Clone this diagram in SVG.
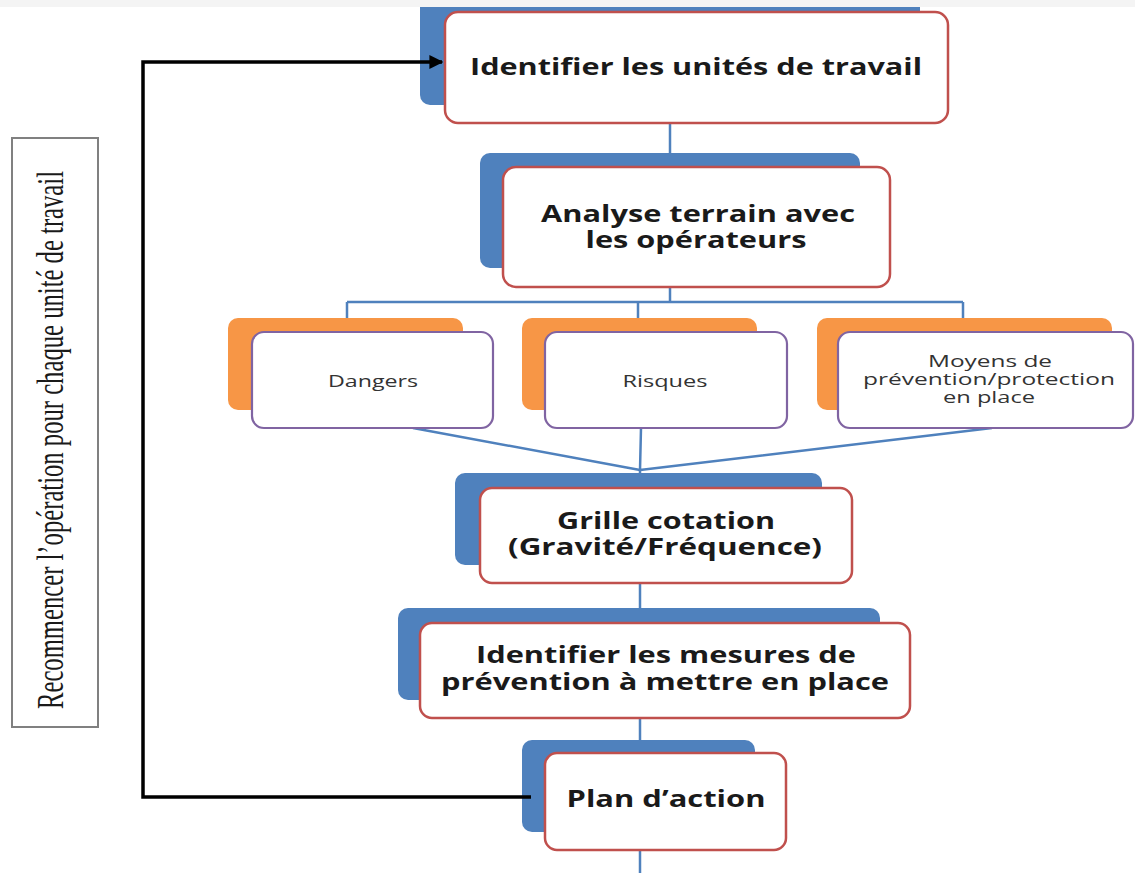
<svg xmlns="http://www.w3.org/2000/svg" width="1135" height="873" viewBox="0 0 1135 873">
  <defs>
    <style>
      .back { fill: #4f81bd; }
      .backo { fill: #f79646; }
      .main { fill: #ffffff; stroke: #c0504d; stroke-width: 2.5; }
      .sub { fill: #ffffff; stroke: #8064a2; stroke-width: 2.2; }
      .big { font-family: "Open Sans", "Liberation Sans", sans-serif; font-weight: bold; font-size: 23px; fill: #1a1a1a; text-anchor: middle; }
      .small { font-family: "Open Sans", "Liberation Sans", sans-serif; font-size: 16px; fill: #333333; text-anchor: middle; }
      .link { stroke: #4f81bd; stroke-width: 2.5; fill: none; }
      .loop { stroke: #000000; stroke-width: 3.5; fill: none; }
      .note { font-family: "Liberation Serif", "Times New Roman", serif; font-size: 38px; fill: #1a1a1a; text-anchor: middle; }
    </style>
    <marker id="arrow" viewBox="0 0 10 10" refX="9" refY="5" markerWidth="4" markerHeight="4" orient="auto" markerUnits="strokeWidth">
      <path d="M0,0 L10,5 L0,10 Z" fill="#000000"/>
    </marker>
  </defs>

  <rect width="1135" height="873" fill="#ffffff"/>

  <!-- tree connectors -->
  <g id="connectors">
    <path class="link" d="M670,123 V153"/>
    <path class="link" d="M670,287 V302"/>
    <path class="link" d="M347,302 H963"/>
    <path class="link" d="M347,302 V318 M638,302 V318 M963,302 V318"/>
    <path class="link" d="M413,428 L640,470 M641,428 L640,470 M992,428 L640,470"/>
    <path class="link" d="M640,470 V474"/>
    <path class="link" d="M640,583 V608"/>
    <path class="link" d="M640,718 V740"/>
    <path class="link" d="M640,850 V873"/>
  </g>

  <!-- step 1 -->
  <g id="n-unites">
    <rect class="back" x="420" y="-8" width="500" height="113" rx="10"/>
    <rect class="main" x="445" y="12" width="503" height="111" rx="13"/>
    <text class="big" x="696" y="75" textLength="452" lengthAdjust="spacingAndGlyphs">Identifier les unités de travail</text>
  </g>

  <!-- top strip of the page -->
  <rect x="0" y="0" width="1135" height="7" fill="#f4f4f4"/>

  <!-- step 2 -->
  <g id="n-analyse">
    <rect class="back" x="480" y="153" width="380" height="115" rx="10"/>
    <rect class="main" x="503" y="167" width="387" height="120" rx="13"/>
    <text class="big" x="698" y="222" textLength="314" lengthAdjust="spacingAndGlyphs">Analyse terrain avec</text>
    <text class="big" x="696" y="248" textLength="221" lengthAdjust="spacingAndGlyphs">les opérateurs</text>
  </g>

  <!-- inputs -->
  <g id="n-dangers">
    <rect class="backo" x="228" y="318" width="235" height="92" rx="10"/>
    <rect class="sub" x="252" y="332" width="241" height="96" rx="12"/>
    <text class="small" x="373" y="387" textLength="90" lengthAdjust="spacingAndGlyphs">Dangers</text>
  </g>
  <g id="n-risques">
    <rect class="backo" x="522" y="318" width="235" height="92" rx="10"/>
    <rect class="sub" x="545" y="332" width="242" height="96" rx="12"/>
    <text class="small" x="665" y="387" textLength="85" lengthAdjust="spacingAndGlyphs">Risques</text>
  </g>
  <g id="n-moyens">
    <rect class="backo" x="817" y="318" width="295" height="92" rx="10"/>
    <rect class="sub" x="838" y="332" width="295" height="96" rx="12"/>
    <text class="small" x="990" y="367" textLength="124" lengthAdjust="spacingAndGlyphs">Moyens de</text>
    <text class="small" x="989" y="385" textLength="252" lengthAdjust="spacingAndGlyphs">prévention/protection</text>
    <text class="small" x="989" y="403" textLength="92" lengthAdjust="spacingAndGlyphs">en place</text>
  </g>

  <!-- step 3 -->
  <g id="n-grille">
    <rect class="back" x="455" y="473" width="367" height="92" rx="10"/>
    <rect class="main" x="480" y="488" width="372" height="95" rx="12"/>
    <text class="big" x="666" y="529" textLength="218" lengthAdjust="spacingAndGlyphs">Grille cotation</text>
    <text class="big" x="665" y="555" textLength="314" lengthAdjust="spacingAndGlyphs">(Gravité/Fréquence)</text>
  </g>

  <!-- step 4 -->
  <g id="n-mesures">
    <rect class="back" x="398" y="608" width="482" height="92" rx="10"/>
    <rect class="main" x="420" y="623" width="490" height="95" rx="12"/>
    <text class="big" x="666" y="663" textLength="380" lengthAdjust="spacingAndGlyphs">Identifier les mesures de</text>
    <text class="big" x="665" y="690" textLength="448" lengthAdjust="spacingAndGlyphs">prévention à mettre en place</text>
  </g>

  <!-- step 5 -->
  <g id="n-plan">
    <rect class="back" x="522" y="740" width="233" height="92" rx="10"/>
    <rect class="main" x="545" y="753" width="241" height="97" rx="12"/>
    <text class="big" x="666" y="807" textLength="199" lengthAdjust="spacingAndGlyphs">Plan d’action</text>
  </g>

  <!-- loop note -->
  <g id="n-note">
    <rect x="12" y="138" width="86" height="589" fill="#ffffff" stroke="#808080" stroke-width="2"/>
    <text class="note" transform="translate(63,440) rotate(-90)" textLength="538" lengthAdjust="spacingAndGlyphs">Recommencer l’opération pour chaque unité de travail</text>
  </g>

  <!-- return loop, drawn over the blue backing shapes -->
  <g id="loop-connector">
    <path class="loop" d="M531,797 H143 V62 H442" marker-end="url(#arrow)"/>
  </g>
</svg>
